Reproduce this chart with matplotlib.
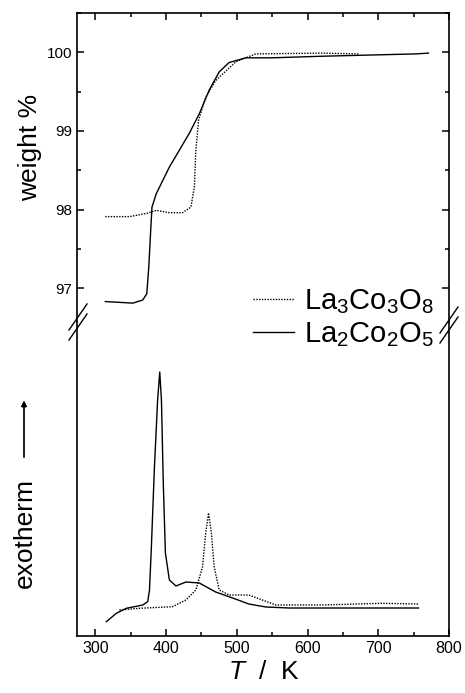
import matplotlib
matplotlib.use("Agg")
import matplotlib.pyplot as plt
from matplotlib.lines import Line2D
from matplotlib.ticker import MultipleLocator

plt.rcParams['font.family'] = ['Liberation Sans', 'DejaVu Sans']
plt.rcParams['mathtext.fontset'] = 'custom'
plt.rcParams['mathtext.rm'] = 'Liberation Sans'
plt.rcParams['mathtext.it'] = 'Liberation Sans:italic'

# TG data (weight %)
t_tg_532 = [314, 353, 367, 372.7, 375.5, 378, 380, 386, 404.6, 432.8, 447, 461, 475, 489, 512.7, 550, 620, 754, 771]
w_532 = [96.83, 96.81, 96.85, 96.93, 97.27, 97.70, 98.03, 98.20, 98.54, 98.97, 99.22, 99.52, 99.75, 99.87, 99.93, 99.93, 99.95, 99.98, 99.99]

t_tg_338 = [314, 348, 372, 386, 404.6, 423, 435, 440, 442, 446, 456, 470, 498.6, 526.8, 620, 672]
w_338 = [97.91, 97.91, 97.95, 97.99, 97.96, 97.96, 98.03, 98.29, 98.75, 99.14, 99.43, 99.64, 99.88, 99.98, 99.99, 99.98]

# DTA data (arbitrary units)
t_dta_532 = [315.5, 329.6, 343.7, 367, 374, 376.5, 379, 383.5, 388, 391, 393.4, 396, 399, 404.6, 414, 428, 447, 470, 494, 517, 541, 574, 757]
h_532 = [1.43, 2.27, 2.77, 3.10, 3.43, 4.6, 8.6, 16.9, 23.6, 26.4, 23.6, 15.3, 8.3, 5.6, 5.0, 5.4, 5.3, 4.4, 3.8, 3.2, 2.9, 2.8, 2.8]

t_dta_338 = [334, 362, 409, 428, 442, 451.5, 456, 460, 464, 468, 475, 489, 517, 536, 555, 620.5, 705, 757]
h_338 = [2.6, 2.77, 2.93, 3.6, 4.6, 6.9, 10.3, 12.3, 10.3, 6.9, 4.6, 4.1, 4.1, 3.6, 3.1, 3.1, 3.27, 3.2]

fig = plt.figure(figsize=(4.65, 6.93), dpi=100)
W, H = 465.0, 693.0
left, right = 77 / W, 449 / W
top, mid, bot = 1 - 13 / H, 1 - 322 / H, 1 - 636 / H

ax1 = fig.add_axes([left, mid, right - left, top - mid])
ax2 = fig.add_axes([left, bot, right - left, mid - bot])

lw = 1.0
ax1.plot(t_tg_338, w_338, color='black', lw=lw, ls=(0, (1, 1)))
ax1.plot(t_tg_532, w_532, color='black', lw=lw)
ax2.plot(t_dta_338, h_338, color='black', lw=lw, ls=(0, (1, 1)), label=r'La$_3$Co$_3$O$_8$')
ax2.plot(t_dta_532, h_532, color='black', lw=lw, label=r'La$_2$Co$_2$O$_5$')

for ax in (ax1, ax2):
    ax.set_xlim(274, 800)
    ax.xaxis.set_major_locator(MultipleLocator(100))
    ax.xaxis.set_minor_locator(MultipleLocator(50))
    for s in ax.spines.values():
        s.set_linewidth(1.2)

ax1.set_ylim(96.57, 100.5)
ax1.yaxis.set_major_locator(MultipleLocator(1))
ax1.yaxis.set_minor_locator(MultipleLocator(0.5))
ax1.spines['bottom'].set_visible(False)
ax1.tick_params(which='both', direction='in', top=True, bottom=False, right=True,
                labelbottom=False, labelsize=11, width=1.1)
ax1.tick_params(which='major', length=5)
ax1.tick_params(which='minor', length=3)

ax2.set_ylim(0, 31.4)
ax2.spines['top'].set_visible(False)
ax2.set_yticks([])
ax2.tick_params(which='both', direction='in', top=False, labelsize=11.5, width=1.1)
ax2.tick_params(which='major', length=5)
ax2.tick_params(which='minor', length=3)

fig.text(264 / W, 1 - 672 / H, r'$\it{T}$  /  K', ha='center', va='center', fontsize=19)
fig.text(30 / W, 1 - 147 / H, 'weight %', rotation=90, ha='center', va='center', fontsize=19)

ax2.legend(loc='center left', bbox_to_anchor=(253 / W, 1 - 318 / H),
           bbox_transform=fig.transFigure, frameon=False, fontsize=21,
           borderpad=0, borderaxespad=0, handlelength=1.4, handletextpad=0.35,
           labelspacing=0.15)

# exotherm label with arrow
fig.text(25 / W, 1 - 533 / H, 'exotherm', rotation=90, ha='center', va='center', fontsize=19)
fig.add_artist(plt.annotate('', xy=(24 / W, 1 - 398 / H), xytext=(24 / W, 1 - 460 / H),
                            xycoords='figure fraction',
                            arrowprops=dict(arrowstyle='-|>', color='black', lw=0.9,
                                            mutation_scale=8)))

# axis break marks
for xc, yc in ((78, 322), (449, 325)):
    for off in (-5, 5):
        fig.add_artist(Line2D([(xc - 9) / W, (xc + 9) / W],
                              [1 - (yc + off + 13) / H, 1 - (yc + off - 13) / H],
                              color='black', lw=1.0))

fig.savefig('out.png', dpi=100)
